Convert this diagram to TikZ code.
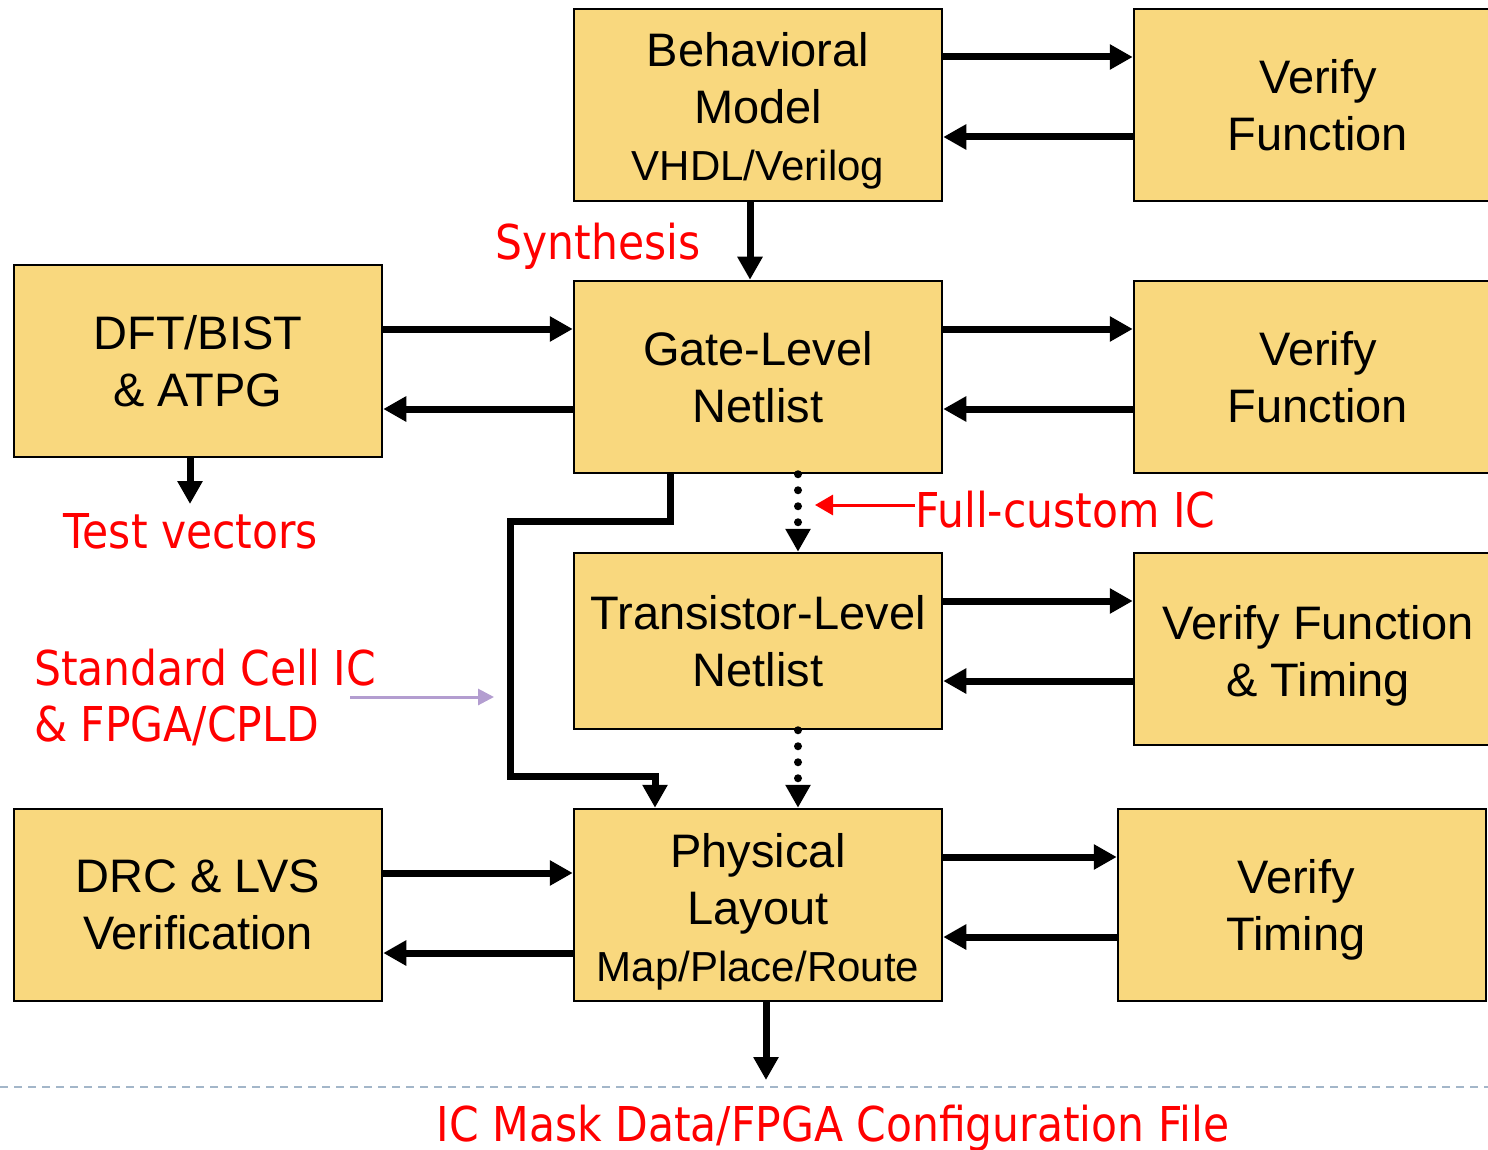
\documentclass[tikz,border=0pt]{standalone}
\usepackage{fontspec}
\setmainfont{Liberation Sans}
\newfontfamily\redfont[FakeStretch=0.885]{DejaVu Sans}
\usetikzlibrary{arrows.meta}
\definecolor{boxfill}{HTML}{F9D87E}
\definecolor{lblred}{HTML}{FF0000}
\definecolor{lilac}{HTML}{B39DD0}
\definecolor{dashblue}{HTML}{A3B6C9}
\tikzset{
  blk/.style={draw=black, line width=2.5pt, fill=boxfill, minimum width=368pt, minimum height=192pt, inner sep=0pt},
  txt/.style={inner sep=0pt, align=center, font=\fontsize{47}{57}\selectfont},
  arr/.style={line width=7pt, -{Triangle[length=23pt,width=24pt]}},
  dotarr/.style={line width=8pt, line cap=round, dash pattern=on 0pt off 16pt, -{Triangle[length=23pt,width=24pt,line cap=butt]}},
  redlbl/.style={text=lblred, font=\redfont\fontsize{48}{56}\selectfont, inner sep=0pt},
}
\begin{document}
\begin{tikzpicture}[x=1pt,y=-1pt]
\useasboundingbox (0,0) rectangle (1488,1150);
% boxes
\node[blk] (beh) at (758,105) {};
\node[blk] (vf1) at (1318,105) {};
\node[blk] (dft) at (198,361) {};
\node[blk] (gate) at (758,377) {};
\node[blk] (vf2) at (1318,377) {};
\node[blk, minimum height=176pt] (tran) at (758,641) {};
\node[blk] (vf3) at (1318,649) {};
\node[blk] (drc) at (198,905) {};
\node[blk] (phys) at (758,905) {};
\node[blk] (vt) at (1302,905) {};
% box texts
\node[txt] (behT) at ([yshift=-6pt]beh.center) {Behavioral\\Model\\{\fontsize{42}{57}\selectfont VHDL/Verilog}};
\node[txt] (vf1T) at (vf1.center) {Verify\\Function};
\node[txt] (dftT) at (dft.center) {DFT/BIST\\\& ATPG};
\node[txt] (gateT) at (gate.center) {Gate-Level\\Netlist};
\node[txt] (vf2T) at (vf2.center) {Verify\\Function};
\node[txt] (tranT) at (tran.center) {Transistor-Level\\Netlist};
\node[txt] (vf3T) at ([yshift=-7pt]vf3.center) {Verify Function\\\& Timing};
\node[txt] (drcT) at (drc.center) {DRC \& LVS\\Verification};
\node[txt] (physT) at ([yshift=-7pt]phys.center) {Physical\\Layout\\{\fontsize{42}{57}\selectfont Map/Place/Route}};
\node[txt] (vtT) at ([xshift=-6pt,yshift=-5pt]vt.center) {Verify\\Timing};
% labels
\node[redlbl] (syn) at (598,246) {Synthesis};
\node[redlbl] (tv) at (191,531) {Test vectors};
\node[redlbl, anchor=west] (fc) at (915,510) {Full-custom IC};
\node[redlbl, anchor=west, align=left] (std) at (34,697) {Standard Cell IC\\\& FPGA/CPLD};
\node[redlbl] (mask) at (833,1128) {IC Mask Data/FPGA Configuration File};
\coordinate (tvtop) at (190,504);
\coordinate (fcend) at (815,505);
\coordinate (stdA) at (350,697);
\coordinate (stdB) at (494,697);
\coordinate (out) at (766,1080);
% horizontal arrow pairs
\draw[arr] (beh.east |- 0,57) -- (vf1.west |- 0,57);
\draw[arr] (vf1.west |- 0,137) -- (beh.east |- 0,137);
\draw[arr] (dft.east |- 0,329) -- (gate.west |- 0,329);
\draw[arr] (gate.west |- 0,409) -- (dft.east |- 0,409);
\draw[arr] (gate.east |- 0,329) -- (vf2.west |- 0,329);
\draw[arr] (vf2.west |- 0,409) -- (gate.east |- 0,409);
\draw[arr] (tran.east |- 0,601) -- (vf3.west |- 0,601);
\draw[arr] (vf3.west |- 0,681) -- (tran.east |- 0,681);
\draw[arr] (drc.east |- 0,873) -- (phys.west |- 0,873);
\draw[arr] (phys.west |- 0,953) -- (drc.east |- 0,953);
\draw[arr] (phys.east |- 0,857) -- (vt.west |- 0,857);
\draw[arr] (vt.west |- 0,937) -- (phys.east |- 0,937);
% vertical
\draw[arr] (beh.south -| 750,0) -- (gate.north -| 750,0);
\draw[arr] (dft.south -| 190,0) -- (tvtop);
\draw[arr] (phys.south -| 766,0) -- (out);
\draw[arr, line join=miter] (gate.south -| 670,0) -- (670,521) -- (510,521) -- (510,776) -- (655,776) -- (phys.north -| 655,0);
\draw[dotarr] (gate.south -| 798,0) -- (tran.north -| 798,0);
\draw[dotarr] (tran.south -| 798,0) -- (phys.north -| 798,0);
% thin arrows
\draw[lblred, line width=3pt, -{Triangle[length=18pt,width=20pt]}] (fc.west |- 0,505) -- (fcend);
\draw[lilac, line width=3pt, -{Triangle[length=16pt,width=16pt]}] (stdA) -- (stdB);
% dashed line
\draw[dashblue, line width=2pt, dash pattern=on 8pt off 6pt] (0,1087) -- (1488,1087);
\end{tikzpicture}
\end{document}
